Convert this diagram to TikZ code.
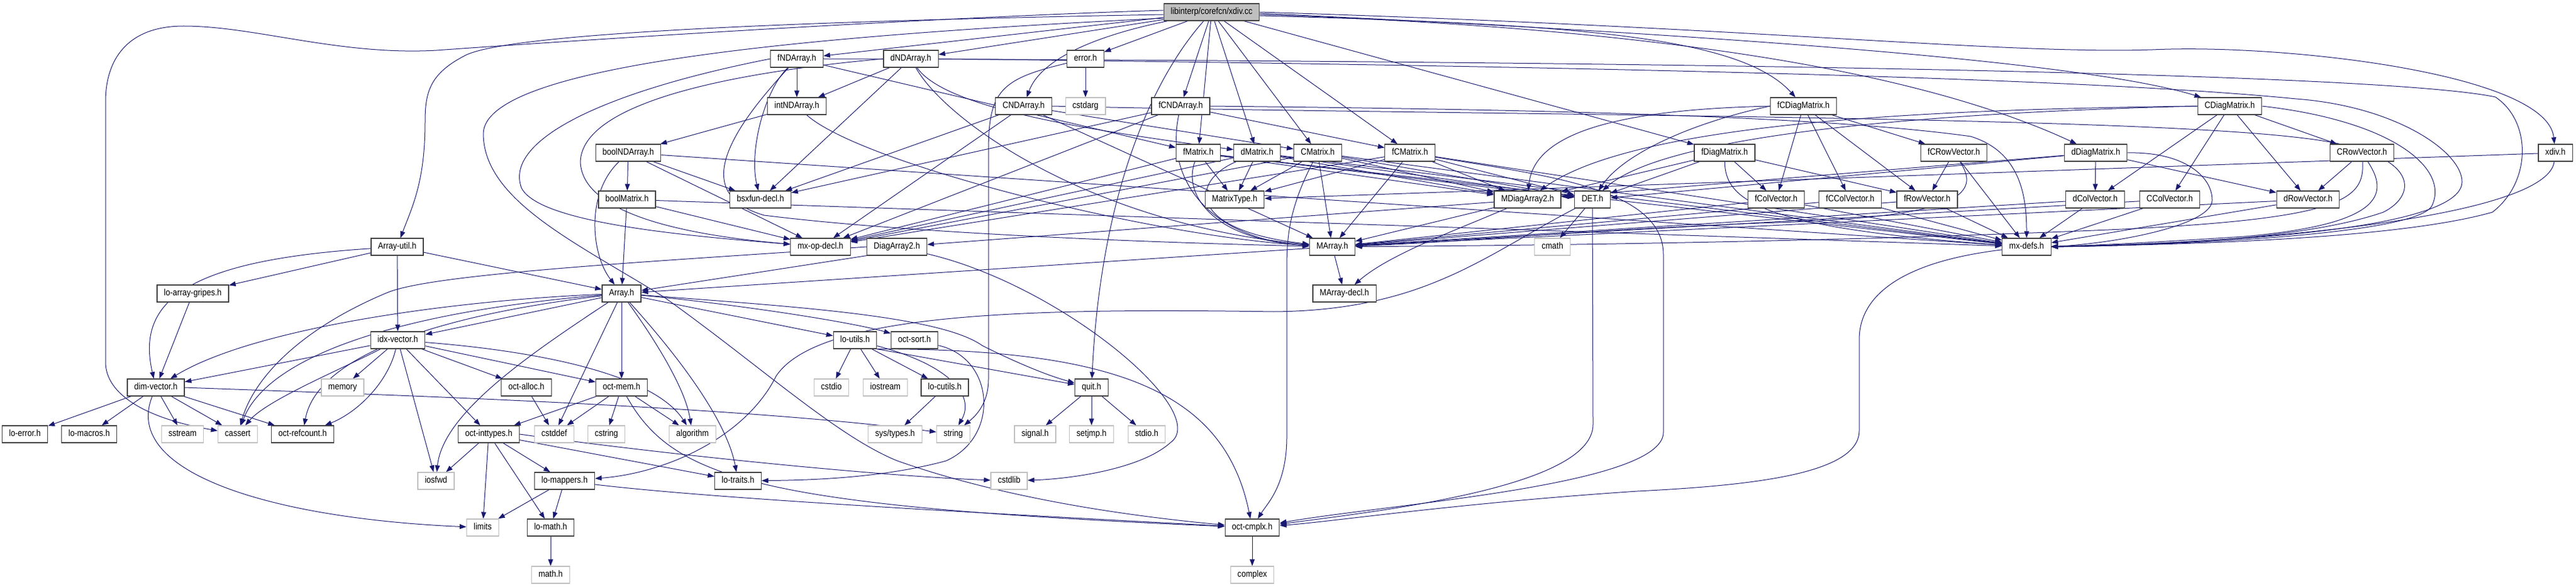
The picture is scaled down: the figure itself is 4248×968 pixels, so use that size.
\documentclass[tikz,border=0pt]{standalone}
\usepackage{fontspec}
\setmainfont{Liberation Sans}[FakeStretch=0.87]
\usetikzlibrary{arrows.meta}
\pgfdeclarelayer{bg}
\pgfsetlayers{bg,main}
\definecolor{edgec}{HTML}{191970}
\definecolor{sysc}{HTML}{BFBFBF}
\definecolor{nodec}{HTML}{404040}
\newcommand\nodefont{\fontsize{15}{17}\selectfont}
\begin{document}
\begin{tikzpicture}[x=1pt,y=-1pt,
  nd/.style={draw=nodec, line width=1.2pt, fill=white, minimum height=28pt,
    inner xsep=11.5pt, inner ysep=0pt, text height=11pt, text depth=3.5pt, font=\nodefont},
  sys/.style={nd, draw=sysc},
  topn/.style={nd, fill=sysc},
  e/.style={draw=edgec, line width=1pt, -{Triangle[length=11pt,width=8pt]}}]
\useasboundingbox (0,0) rectangle (4248,968);
% ---- nodes
\node[topn] (xc) at (1998,20) {libinterp/corefcn/xdiv.cc};
\node[nd] (fND) at (1314,97) {fNDArray.h};
\node[nd] (dND) at (1502,97) {dNDArray.h};
\node[nd] (err) at (1790,97) {error.h};
\node[nd] (intND) at (1314,175) {intNDArray.h};
\node[nd] (CND) at (1688,175) {CNDArray.h};
\node[sys] (cstdarg) at (1790,175) {cstdarg};
\node[nd] (fCND) at (1947,175) {fCNDArray.h};
\node[nd] (fCDM) at (2974,175) {fCDiagMatrix.h};
\node[nd] (CDM) at (3677,175) {CDiagMatrix.h};
\node[nd] (boolND) at (1036,252) {boolNDArray.h};
\node[nd] (fM) at (1976,252) {fMatrix.h};
\node[nd] (dM) at (2073,252) {dMatrix.h};
\node[nd] (CM) at (2173,252) {CMatrix.h};
\node[nd] (fCM) at (2325,252) {fCMatrix.h};
\node[nd] (fDM) at (2844,252) {fDiagMatrix.h};
\node[nd] (fCRV) at (3222,252) {fCRowVector.h};
\node[nd] (dDM) at (3456,252) {dDiagMatrix.h};
\node[nd] (CRV) at (3895,252) {CRowVector.h};
\node[nd] (xdivh) at (4214,252) {xdiv.h};
\node[nd] (boolM) at (1034,329) {boolMatrix.h};
\node[nd] (bsx) at (1254,329) {bsxfun-decl.h};
\node[nd] (MT) at (2036,329) {MatrixType.h};
\node[nd] (MDA2) at (2519,329) {MDiagArray2.h};
\node[nd] (DET) at (2626,329) {DET.h};
\node[nd] (fCV) at (2929,329) {fColVector.h};
\node[nd] (fCCV) at (3051,329) {fCColVector.h};
\node[nd] (fRV) at (3178,329) {fRowVector.h};
\node[nd] (dCV) at (3455,329) {dColVector.h};
\node[nd] (CCV) at (3578,329) {CColVector.h};
\node[nd] (dRV) at (3806,329) {dRowVector.h};
\node[nd] (AU) at (655,407) {Array-util.h};
\node[nd] (mxop) at (1353,407) {mx-op-decl.h};
\node[nd] (DA2) at (1479,407) {DiagArray2.h};
\node[nd] (MA) at (2197,407) {MArray.h};
\node[sys] (cmath) at (2560,407) {cmath};
\node[nd] (mxdefs) at (3342,407) {mx-defs.h};
\node[nd] (lag) at (318,484) {lo-array-gripes.h};
\node[nd] (Arr) at (1025,484) {Array.h};
\node[nd] (MAd) at (2217,484) {MArray-decl.h};
\node[nd] (idx) at (656,561) {idx-vector.h};
\node[nd] (loutils) at (1410,561) {lo-utils.h};
\node[nd] (octsort) at (1508,561) {oct-sort.h};
\node[nd] (dimv) at (257,639) {dim-vector.h};
\node[sys] (memory) at (565,639) {memory};
\node[nd] (octalloc) at (868,639) {oct-alloc.h};
\node[nd] (octmem) at (1025,639) {oct-mem.h};
\node[sys] (cstdio) at (1371,639) {cstdio};
\node[sys] (iostream) at (1460,639) {iostream};
\node[nd] (locutils) at (1558,639) {lo-cutils.h};
\node[nd] (quit) at (1800,639) {quit.h};
\node[nd] (loerror) at (41,716) {lo-error.h};
\node[nd] (lomacros) at (147,716) {lo-macros.h};
\node[sys] (sstream) at (301,716) {sstream};
\node[sys] (cassert) at (392,716) {cassert};
\node[nd] (refcount) at (499,716) {oct-refcount.h};
\node[nd] (inttypes) at (806,716) {oct-inttypes.h};
\node[sys] (cstddef) at (914,716) {cstddef};
\node[sys] (cstring) at (1000,716) {cstring};
\node[sys] (algorithm) at (1142,716) {algorithm};
\node[sys] (systypes) at (1476,716) {sys/types.h};
\node[sys] (string) at (1572,716) {string};
\node[sys] (signal) at (1707,716) {signal.h};
\node[sys] (setjmp) at (1800,716) {setjmp.h};
\node[sys] (stdio) at (1891,716) {stdio.h};
\node[sys] (iosfwd) at (719,793) {iosfwd};
\node[nd] (lomappers) at (931,793) {lo-mappers.h};
\node[nd] (lotraits) at (1217,793) {lo-traits.h};
\node[sys] (cstdlib) at (1664,793) {cstdlib};
\node[sys] (limits) at (796,870) {limits};
\node[nd] (lomath) at (908,870) {lo-math.h};
\node[nd] (cmplx) at (2065,870) {oct-cmplx.h};
\node[sys] (mathh) at (908,948) {math.h};
\node[sys] (complex) at (2065,948) {complex};
% ---- edges
\begin{pgfonlayer}{bg}
% xdiv.cc
\draw[e] ([yshift=3pt]xc.west) .. controls (1500,30) and (900,70) .. (720,83) .. controls (560,92) and (420,43) .. (303,43) .. controls (200,43) and (174,110) .. (174,167) -- (174,597) .. controls (174,650) and (240,690) .. (cassert);
\draw[e] ([yshift=-4pt]xc.west) .. controls (1300,35) and (850,55) .. (770,90) .. controls (710,120) and (701,150) .. (701,200) .. controls (701,300) and (680,340) .. (AU);
\draw[e] ([yshift=-10pt]xc.west) .. controls (1300,60) and (800,110) .. (797,220) .. controls (797,330) and (950,400) .. (1095,490) .. controls (1250,600) and (1380,720) .. (1480,760) .. controls (1650,820) and (1850,850) .. (cmplx);
\draw[e] (xc) -- (fND);
\draw[e] (xc) -- (dND);
\draw[e] (xc) -- (err);
\draw[e] (xc) .. controls (1800,60) and (1715,100) .. (CND);
\draw[e] (xc) .. controls (1900,130) and (1815,320) .. (quit);
\draw[e] (xc) -- (fCND);
\draw[e] (xc) -- (fM);
\draw[e] (xc) -- (dM);
\draw[e] (xc) -- (CM);
\draw[e] (xc) -- (fCM);
\draw[e] (xc) -- (fDM);
\draw[e] ([yshift=-6pt]xc.east) .. controls (2600,40) and (2870,60) .. (fCDM);
\draw[e] ([yshift=-4pt]xc.east) .. controls (2700,45) and (3150,110) .. (dDM);
\draw[e] ([yshift=-2pt]xc.east) .. controls (2900,60) and (3450,105) .. (CDM);
\draw[e] (xc.east) .. controls (2900,45) and (3300,90) .. (3550,82) .. controls (3760,72) and (4200,120) .. (xdivh);
% fNDArray
\draw[e] (fND) -- (intND);
\draw[e] (fND) .. controls (1260,150) and (1235,250) .. (bsx);
\draw[e] (fND.west) .. controls (1000,150) and (830,230) .. (860,310) .. controls (890,370) and (1150,390) .. (mxop);
\draw[e] (fND) .. controls (1200,220) and (1140,320) .. (1260,355) .. controls (1500,385) and (1900,400) .. (MA);
\draw[e] (fND) -- (fM);
\draw[e] (fND.east) .. controls (2500,100) and (3900,115) .. (4115,160) .. controls (4175,200) and (4175,300) .. (4110,350) .. controls (3950,395) and (3600,403) .. (mxdefs.east);
% dNDArray
\draw[e] (dND) -- (intND);
\draw[e] (dND) -- (bsx);
\draw[e] (dND.west) .. controls (1200,120) and (960,170) .. (957,267) .. controls (960,345) and (1100,385) .. (mxop);
\draw[e] (dND) .. controls (1560,180) and (1800,215) .. (dM);
\draw[e] (dND) .. controls (1560,200) and (1800,370) .. (MA);
\draw[e] (dND.east) .. controls (2500,108) and (3400,125) .. (3786,163) .. controls (3950,175) and (4060,250) .. (4060,300) .. controls (4060,350) and (3900,395) .. (mxdefs.east);
% CNDArray
\draw[e] (CND) -- (bsx);
\draw[e] (CND) -- (mxop);
\draw[e] (CND) -- (MA);
\draw[e] (CND) -- (CM);
\draw[e] (CND.east) .. controls (2400,190) and (3500,190) .. (3800,228) .. controls (3990,250) and (3990,320) .. (3930,350) .. controls (3800,395) and (3550,405) .. (mxdefs.east);
% fCNDArray
\draw[e] (fCND) -- (bsx);
\draw[e] (fCND) -- (mxop);
\draw[e] (fCND) .. controls (1920,300) and (2000,395) .. (MA);
\draw[e] (fCND) -- (fCM);
\draw[e] (fCND.east) .. controls (2500,180) and (3000,190) .. (3250,225) .. controls (3330,250) and (3342,320) .. (mxdefs);
% intNDArray, boolNDArray, boolMatrix
\draw[e] (intND) -- (boolND);
\draw[e] (intND) .. controls (1420,270) and (1900,390) .. (MA);
\draw[e] (boolND) -- (boolM);
\draw[e] (boolND) .. controls (965,320) and (975,420) .. (Arr);
\draw[e] (boolND) -- (mxop);
\draw[e] (boolND) -- (bsx);
\draw[e] (boolND) -- (mxdefs);
\draw[e] (boolM) -- (Arr);
\draw[e] (boolM) -- (mxop);
\draw[e] (boolM) -- (mxdefs);
% matrices
\draw[e] (fM) -- (MT);
\draw[e] (fM) .. controls (1950,320) and (2000,395) .. (MA);
\draw[e] (fM) -- (mxop);
\draw[e] (fM) -- (MDA2);
\draw[e] (fM) -- (DET);
\draw[e] (fM) -- (mxdefs);
\draw[e] (dM) -- (MT);
\draw[e] (dM) .. controls (1960,300) and (1960,380) .. (MA);
\draw[e] (dM) -- (mxop);
\draw[e] (dM) -- (MDA2);
\draw[e] (dM) -- (DET);
\draw[e] (dM) -- (mxdefs);
\draw[e] (CM) -- (MT);
\draw[e] (CM) -- (MA);
\draw[e] (CM) -- (mxop);
\draw[e] (CM) -- (MDA2);
\draw[e] (CM) -- (DET);
\draw[e] (CM) -- (mxdefs);
\draw[e] (CM) .. controls (2122,350) and (2122,400) .. (2122,450) -- (2122,720) .. controls (2122,800) and (2090,830) .. (cmplx);
\draw[e] (fCM) -- (MT);
\draw[e] (fCM) -- (MA);
\draw[e] (fCM) -- (mxop);
\draw[e] (fCM) -- (MDA2);
\draw[e] (fCM) -- (DET);
\draw[e] (fCM) -- (mxdefs);
\draw[e] (fCM) .. controls (2550,290) and (2743,310) .. (2743,420) -- (2743,713) .. controls (2743,800) and (2300,830) .. (cmplx);
% diag matrices
\draw[e] (fDM) -- (fCV);
\draw[e] (fDM) -- (fRV);
\draw[e] (fDM) -- (MDA2);
\draw[e] (fDM) -- (DET);
\draw[e] (fDM) .. controls (2845,330) and (2900,375) .. (mxdefs);
\draw[e] (fCDM) -- (fCV);
\draw[e] (fCDM) -- (fCCV);
\draw[e] (fCDM) -- (fRV);
\draw[e] (fCDM) -- (fCRV);
\draw[e] (fCDM.west) .. controls (2700,180) and (2530,210) .. (MDA2);
\draw[e] (fCDM.west) .. controls (2800,200) and (2680,250) .. (DET);
\draw[e] (dDM) -- (dCV);
\draw[e] (dDM) -- (dRV);
\draw[e] (dDM) -- (MDA2);
\draw[e] (dDM) -- (DET);
\draw[e] (dDM.east) .. controls (3600,250) and (3648,290) .. (3648,330) .. controls (3648,370) and (3500,400) .. (mxdefs.east);
\draw[e] (CDM) -- (dCV);
\draw[e] (CDM) -- (CCV);
\draw[e] (CDM) -- (dRV);
\draw[e] (CDM) -- (CRV);
\draw[e] (CDM.west) .. controls (3200,180) and (2700,200) .. (MDA2);
\draw[e] (CDM.west) .. controls (3200,185) and (2750,220) .. (DET);
\draw[e] (CDM.east) .. controls (3950,200) and (4040,280) .. (4010,340) .. controls (3980,390) and (3550,405) .. (mxdefs.east);
% vectors
\draw[e] (fCRV) -- (fRV);
\draw[e] (fCRV) .. controls (3275,330) and (3200,360) .. (2900,368) .. controls (2600,380) and (2400,400) .. (MA);
\draw[e] (fCRV) -- (mxdefs);
\draw[e] (CRV) -- (dRV);
\draw[e] (CRV) .. controls (3900,330) and (3860,360) .. (3500,378) .. controls (3000,400) and (2500,405) .. (MA);
\draw[e] (CRV) .. controls (3940,320) and (3930,370) .. (3700,390) .. controls (3550,400) and (3450,405) .. (mxdefs);
\draw[e] (fCV) -- (MA);
\draw[e] (fCV) -- (mxdefs);
\draw[e] (fCCV) -- (MA);
\draw[e] (fCCV) -- (mxdefs);
\draw[e] (fRV) -- (MA);
\draw[e] (fRV) -- (mxdefs);
\draw[e] (dCV) -- (MA);
\draw[e] (dCV) -- (mxdefs);
\draw[e] (CCV) -- (MA);
\draw[e] (CCV) -- (mxdefs);
\draw[e] (dRV) -- (MA);
\draw[e] (dRV) -- (mxdefs);
\draw[e] (xdivh) -- (MT);
\draw[e] (xdivh) .. controls (4200,360) and (3700,402) .. (mxdefs);
% MDiagArray2, DiagArray2, MArray, DET, mx-defs
\draw[e] (MDA2) -- (DA2);
\draw[e] (MDA2) -- (MA);
\draw[e] (MDA2) .. controls (2400,380) and (2290,420) .. (MAd);
\draw[e] (DA2.south west) -- (Arr);
\draw[e] (DA2.west) .. controls (1100,430) and (720,450) .. (640,482) .. controls (500,540) and (420,620) .. (cassert);
\draw[e] (DA2) .. controls (1750,470) and (2000,680) .. (1930,730) .. controls (1880,775) and (1760,790) .. (cstdlib);
\draw[e] (MA) -- (MAd);
\draw[e] (MA) -- (Arr);
\draw[e] (DET) -- (cmath);
\draw[e] (DET) .. controls (2450,420) and (2350,512) .. (2100,514) .. controls (1700,508) and (1350,515) .. (1280,620) .. controls (1230,720) and (1100,780) .. (lomappers);
\draw[e] (DET) -- (2627,700) .. controls (2627,800) and (2300,840) .. (cmplx);
\draw[e] (mxdefs) .. controls (3150,430) and (3066,480) .. (3066,560) -- (3066,710) .. controls (3066,780) and (2900,800) .. (2700,810) .. controls (2400,830) and (2200,860) .. (cmplx);
% Array-util, Array
\draw[e] (AU) -- (Arr);
\draw[e] (AU) .. controls (300,430) and (225,500) .. (dimv);
\draw[e] (AU) -- (idx);
\draw[e] (AU) -- (lag);
\draw[e] (lag) -- (dimv);
\draw[e] (Arr) .. controls (750,495) and (420,540) .. (dimv);
\draw[e] (Arr) -- (idx);
\draw[e] (Arr) .. controls (650,515) and (440,590) .. (cassert);
\draw[e] (Arr) .. controls (680,525) and (520,600) .. (refcount);
\draw[e] (Arr) .. controls (880,580) and (730,680) .. (iosfwd);
\draw[e] (Arr) -- (cstddef);
\draw[e] (Arr) -- (octmem);
\draw[e] (Arr) .. controls (1080,560) and (1130,640) .. (algorithm);
\draw[e] (Arr) .. controls (1130,600) and (1200,700) .. (lotraits);
\draw[e] (Arr) -- (loutils);
\draw[e] (Arr) .. controls (1200,500) and (1400,530) .. (octsort);
\draw[e] (Arr) .. controls (1300,505) and (1550,520) .. (1620,570) .. controls (1680,600) and (1730,620) .. (quit);
% idx-vector
\draw[e] (idx) -- (dimv);
\draw[e] (idx) -- (memory);
\draw[e] (idx) .. controls (560,610) and (440,660) .. (cassert);
\draw[e] (idx) .. controls (640,630) and (590,680) .. (refcount);
\draw[e] (idx) -- (iosfwd);
\draw[e] (idx) -- (inttypes);
\draw[e] (idx) -- (octalloc);
\draw[e] (idx) -- (octmem);
\draw[e] (idx) .. controls (900,580) and (1080,620) .. (algorithm);
% dim-vector
\draw[e] (dimv) -- (loerror);
\draw[e] (dimv) -- (lomacros);
\draw[e] (dimv) -- (sstream);
\draw[e] (dimv) -- (cassert);
\draw[e] (dimv) -- (refcount);
\draw[e] (dimv) .. controls (200,780) and (450,855) .. (limits);
\draw[e] (dimv.east) .. controls (600,650) and (1200,668) .. (string);
% lower layers
\draw[e] (octalloc) -- (cstddef);
\draw[e] (octmem) -- (inttypes);
\draw[e] (octmem) -- (cstddef);
\draw[e] (octmem) -- (cstring);
\draw[e] (octmem) -- (algorithm);
\draw[e] (octmem) .. controls (1110,790) and (1250,835) .. (cmplx);
\draw[e] (inttypes) -- (iosfwd);
\draw[e] (inttypes) -- (limits);
\draw[e] (inttypes) -- (lomath);
\draw[e] (inttypes) -- (lomappers);
\draw[e] (inttypes) -- (lotraits);
\draw[e] (inttypes.east) .. controls (1100,750) and (1450,785) .. (cstdlib);
\draw[e] (lomappers) -- (limits);
\draw[e] (lomappers) -- (lomath);
\draw[e] (lomappers) .. controls (1200,825) and (1700,850) .. (cmplx);
\draw[e] (lomath) -- (mathh);
\draw[e] (cmplx) -- (complex);
\draw[e] (loutils) -- (cstdio);
\draw[e] (loutils) -- (iostream);
\draw[e] (loutils) -- (locutils);
\draw[e] (loutils) .. controls (1560,600) and (1610,650) .. (string);
\draw[e] (loutils.south east) -- (quit);
\draw[e] (loutils.south east) .. controls (1850,575) and (2020,650) .. (cmplx);
\draw[e] (octsort) .. controls (1640,590) and (1650,720) .. (1560,760) .. controls (1450,790) and (1320,792) .. (lotraits);
\draw[e] (err) -- (cstdarg);
\draw[e] (err) .. controls (1650,130) and (1630,150) .. (1630,250) -- (1630,625) .. controls (1630,665) and (1610,685) .. (string);
\draw[e] (quit) -- (signal);
\draw[e] (quit) -- (setjmp);
\draw[e] (quit) -- (stdio);
\draw[e] (locutils) -- (systypes);
\end{pgfonlayer}
\end{tikzpicture}
\end{document}
